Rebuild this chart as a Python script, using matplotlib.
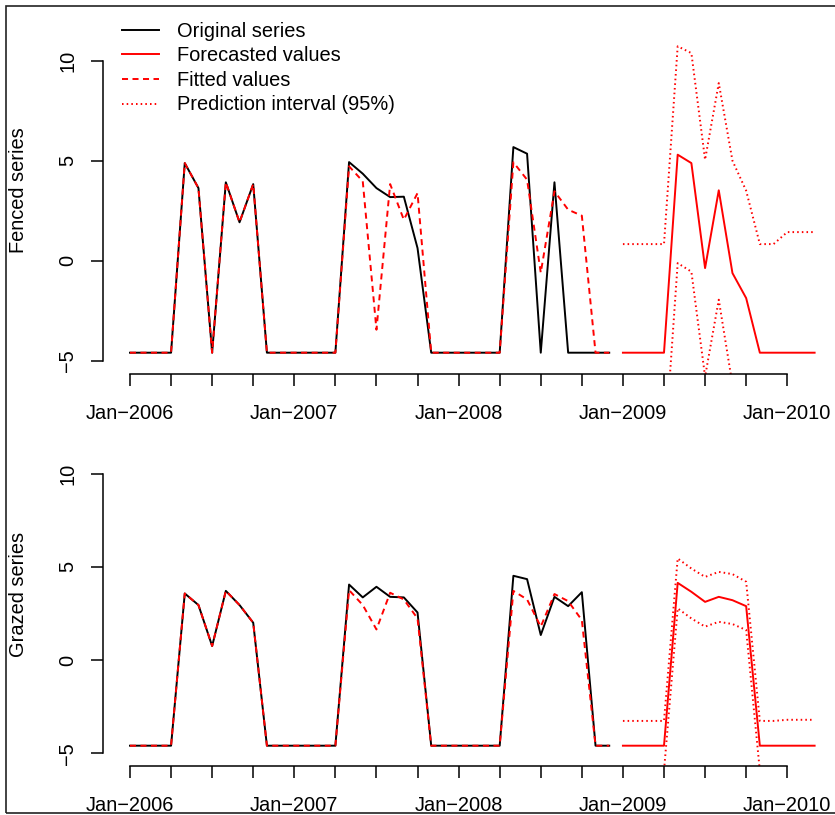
import numpy as np
import matplotlib
matplotlib.use("Agg")
import matplotlib.pyplot as plt
from matplotlib.patches import Rectangle

plt.rcParams['font.family'] = ['Liberation Sans', 'DejaVu Sans']
plt.rcParams['font.size'] = 14.4

# monthly series, Jan-2006 .. Dec-2008 (observed) and Jan-2009 .. Mar-2010 (forecast)
start_year = 2006
obs_months = np.arange(36)
fc_months = np.arange(36, 51)

fenced_orig = [-4.6, -4.6, -4.6, -4.6, 4.88, 3.63, -4.6, 3.92, 1.92, 3.83, -4.6, -4.6,
               -4.6, -4.6, -4.6, -4.6, 4.93, 4.35, 3.63, 3.18, 3.2, 0.63, -4.6, -4.6,
               -4.6, -4.6, -4.6, -4.6, 5.68, 5.35, -4.6, 3.92, -4.6, -4.6, -4.6, -4.6]
fenced_fit = [-4.6, -4.6, -4.6, -4.6, 4.88, 3.63, -4.6, 3.92, 1.92, 3.83, -4.6, -4.6,
              -4.6, -4.6, -4.6, -4.6, 4.72, 3.97, -3.45, 3.83, 2.05, 3.38, -4.6, -4.6,
              -4.6, -4.6, -4.6, -4.6, 4.92, 4.05, -0.6, 3.47, 2.55, 2.25, -4.6, -4.6]
fenced_fc = [-4.6, -4.6, -4.6, -4.6, 5.3, 4.88, -0.37, 3.52, -0.62, -1.87,
             -4.6, -4.6, -4.6, -4.6, -4.6]
fenced_hi = [0.83, 0.83, 0.83, 0.83, 10.72, 10.38, 5.05, 8.88, 5.0, 3.5,
             0.83, 0.83, 1.43, 1.43, 1.43]
fenced_lo = [-10.0, -10.0, -10.0, -10.0, -0.12, -0.55, -5.8, -1.95, -6.2, -7.3,
             -10.0, -10.0, -10.7, -10.7, -10.7]

grazed_orig = [-4.6, -4.6, -4.6, -4.6, 3.57, 2.95, 0.75, 3.71, 2.95, 2.0, -4.6, -4.6,
               -4.6, -4.6, -4.6, -4.6, 4.05, 3.36, 3.93, 3.39, 3.36, 2.55, -4.6, -4.6,
               -4.6, -4.6, -4.6, -4.6, 4.52, 4.34, 1.34, 3.39, 2.89, 3.64, -4.6, -4.6]
grazed_fit = [-4.6, -4.6, -4.6, -4.6, 3.57, 2.95, 0.75, 3.71, 2.95, 2.0, -4.6, -4.6,
              -4.6, -4.6, -4.6, -4.6, 3.75, 2.95, 1.64, 3.61, 3.25, 2.23, -4.6, -4.6,
              -4.6, -4.6, -4.6, -4.6, 3.71, 3.25, 1.79, 3.54, 3.16, 2.14, -4.6, -4.6]
grazed_fc = [-4.6, -4.6, -4.6, -4.6, 4.14, 3.66, 3.12, 3.39, 3.21, 2.89,
             -4.6, -4.6, -4.6, -4.6, -4.6]
grazed_hi = [-3.27, -3.27, -3.27, -3.27, 5.45, 4.91, 4.46, 4.73, 4.61, 4.2,
             -3.27, -3.27, -3.21, -3.21, -3.21]
grazed_lo = [-5.95, -5.95, -5.95, -5.95, 2.77, 2.23, 1.79, 2.05, 1.93, 1.61,
             -5.95, -5.95, -6.0, -6.0, -6.0]

y_ticks = [-5, 0, 5, 10]
y_tick_labels = ['\u22125', '0', '5', '10']
x_ticks = start_year + np.arange(0, 49, 3) / 12
x_tick_labels = ['Jan\u2212%d' % (start_year + q // 4) if q % 4 == 0 else '' for q in range(17)]

W, H = 835, 815
fig = plt.figure(figsize=(W / 100, H / 100), dpi=100)

RED = 'red'
LW = 1.4
DASH = (0, (3.1, 2.3))
DOT = (0, (0.8, 1.6))


def panel(top_px, bot_px, ylim, orig, fit, fc, hi, lo, ylabel, legend=False):
    left_px, right_px = 102.6, 842
    ax = fig.add_axes([left_px / W, 1 - bot_px / H, (right_px - left_px) / W, (bot_px - top_px) / H])
    t_obs = start_year + obs_months / 12
    t_fc = start_year + fc_months / 12
    ax.plot(t_obs, orig, color='black', lw=LW, label='Original series')
    ax.plot(t_fc, fc, color=RED, lw=LW, label='Forecasted values')
    ax.plot(t_obs, fit, color=RED, lw=LW, ls=DASH, label='Fitted values')
    ax.plot(t_fc, hi, color=RED, lw=LW, ls=DOT, label='Prediction interval (95%)')
    ax.plot(t_fc, lo, color=RED, lw=LW, ls=DOT)
    ax.set_xlim(start_year - 2 / 12, start_year + 52 / 12)
    ax.set_ylim(*ylim)
    for s in ['top', 'right']:
        ax.spines[s].set_visible(False)
    ax.spines['left'].set_bounds(-5, 10)
    ax.spines['bottom'].set_bounds(x_ticks[0], x_ticks[-1])
    for s in ['left', 'bottom']:
        ax.spines[s].set_linewidth(1.1)
    ax.set_yticks(y_ticks, y_tick_labels, rotation=90, va='center')
    ax.set_xticks(x_ticks, x_tick_labels)
    ax.tick_params(axis='both', length=8.6, width=1.1, colors='black')
    ax.tick_params(axis='y', pad=9.6)
    ax.tick_params(axis='x', pad=13)
    fig.text(18.3 / W, 1 - (top_px + bot_px) / 2 / H, ylabel, rotation=90,
             ha='center', va='center')
    if legend:
        ax.legend(loc='upper left', bbox_to_anchor=(121.7 / W, 1 - 21.7 / H),
                  bbox_transform=fig.transFigure, frameon=False, borderpad=0,
                  borderaxespad=0, handlelength=1.88, handletextpad=0.9,
                  labelspacing=0.28)
    return ax


panel(6, 374, (-5.665, 12.735), fenced_orig, fenced_fit, fenced_fc, fenced_hi, fenced_lo,
      'Fenced series', legend=True)
panel(422, 766, (-5.69, 12.775), grazed_orig, grazed_fit, grazed_fc, grazed_hi, grazed_lo,
      'Grazed series')

fig.add_artist(Rectangle((6 / W, 1 - 813 / H), 1.2, (813 - 6) / H, transform=fig.transFigure,
                         fill=False, edgecolor='#222222', lw=1.2))

fig.savefig('out.png', dpi=100)
